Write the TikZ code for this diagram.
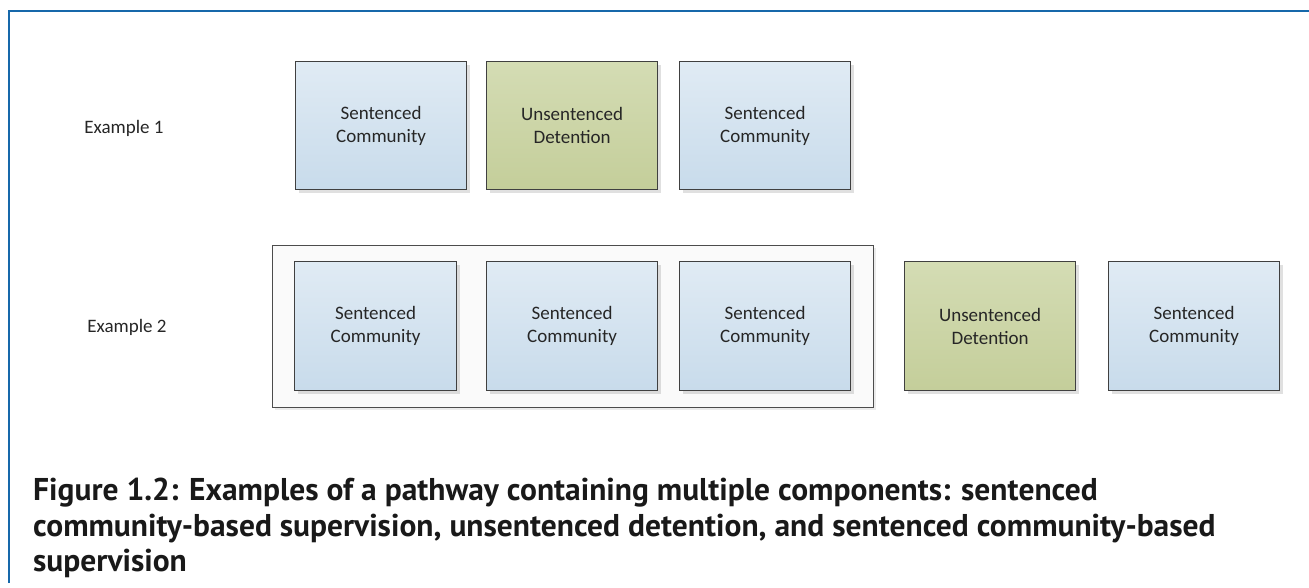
\documentclass[tikz,border=0pt]{standalone}
\usepackage{fontspec}
\setmainfont{Carlito}
\newfontfamily\piefont{PT Sans}
\usetikzlibrary{positioning,shadows,fit,backgrounds}

\begin{document}
\begin{tikzpicture}[x=1pt,y=-1pt,
    caja/.style={draw=black!75, line width=1.2pt, anchor=north west,
        minimum width=171pt, minimum height=128pt, align=center,
        text=black!85, font=\fontsize{19}{23}\selectfont,
        drop shadow={shadow xshift=3pt, shadow yshift=-3pt, fill=black, opacity=0.12}},
    sent/.style={caja, top color=azulA, bottom color=azulB},
    unsent/.style={caja, top color=verdeA, bottom color=verdeB},
    grupo/.style={draw=black!70, line width=1pt, fill=black!2,
        inner xsep=22pt, inner ysep=16pt,
        drop shadow={shadow xshift=3pt, shadow yshift=-3pt, fill=black, opacity=0.08}},
    etiqueta/.style={text=black!85, font=\fontsize{19}{23}\selectfont}]
    %colores
    \definecolor{azulA}{RGB}{224,235,244}
    \definecolor{azulB}{RGB}{200,219,235}
    \definecolor{verdeA}{RGB}{212,220,180}
    \definecolor{verdeB}{RGB}{196,206,154}
    \definecolor{marco}{RGB}{22,104,170}

    \useasboundingbox (0,0) rectangle (1309,587);

    % Marco
    \draw[marco, line width=2.6pt] (9,583) -- (9,11) -- (1309,11);

    % Ejemplo 1
    \node[etiqueta] (e1) at (124,128) {Example 1};
    \foreach \x/\tipo/\n/\txt in {295/sent/a1/{Sentenced\\Community},
                                  486/unsent/a2/{Unsentenced\\Detention},
                                  679/sent/a3/{Sentenced\\Community}}
        \node[\tipo] (\n) at (\x,61) {\txt};

    % Ejemplo 2
    \node[etiqueta] (e2) at (127,327) {Example 2};
    \node[sent, minimum width=162pt, minimum height=129pt] (b1) at (294,261) {Sentenced\\Community};
    \foreach \x/\tipo/\n/\txt in {486/sent/b2/{Sentenced\\Community},
                                  679/sent/b3/{Sentenced\\Community},
                                  904/unsent/b4/{Unsentenced\\Detention},
                                  1108/sent/b5/{Sentenced\\Community}}
        \node[\tipo, minimum height=129pt] (\n) at (\x,261) {\txt};
    \begin{scope}[on background layer]
        \node[grupo, fit=(b1)(b3)] (g2) {};
    \end{scope}

    % Pie de figura
    \node[anchor=north west, inner sep=0pt, align=left, text=black!90,
        font=\piefont\bfseries\fontsize{31.5}{35.5}\selectfont] (pie) at (33,478)
        {Figure 1.2: Examples of a pathway containing multiple components: sentenced\\
         community-based supervision, unsentenced detention, and sentenced community-based\\
         supervision};
\end{tikzpicture}
\end{document}
